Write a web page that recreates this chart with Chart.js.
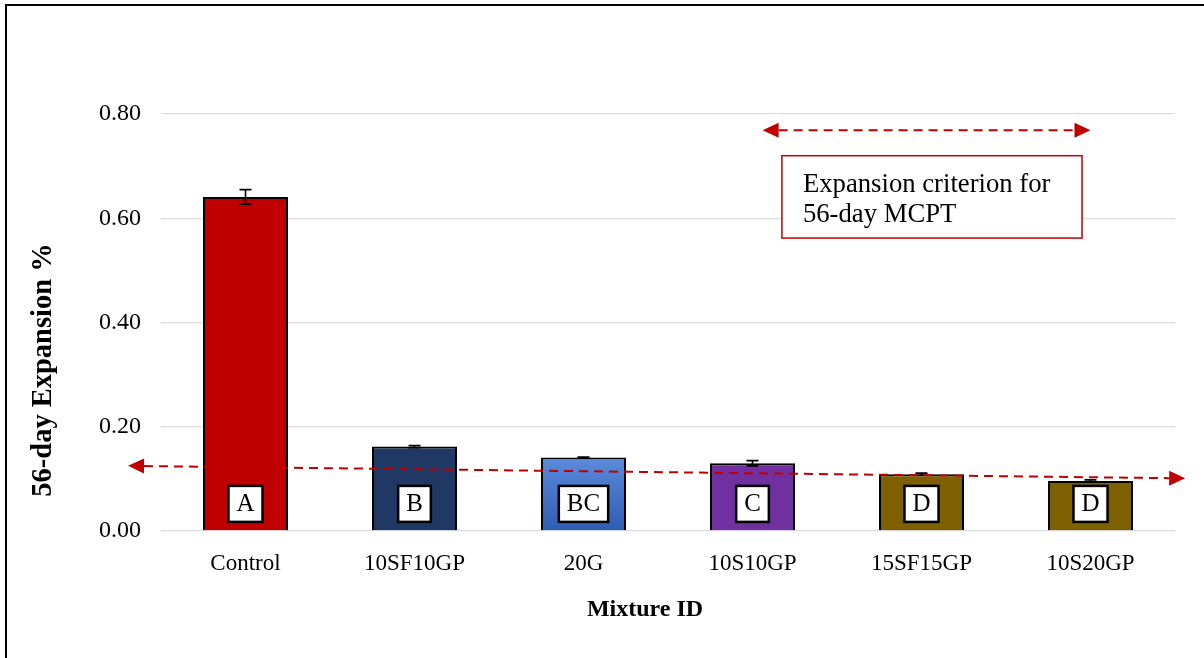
<!DOCTYPE html>
<html>
<head>
<meta charset="utf-8">
<title>56-day Expansion</title>
<script src="https://cdn.jsdelivr.net/npm/chart.js@4.4.1/dist/chart.umd.min.js"></script>
<style>
  html, body { margin: 0; padding: 0; background: #fff; }
  #wrap { position: relative; width: 1204px; height: 658px; overflow: hidden; background: #fff; }
  #frame { position: absolute; left: 5px; top: 4px; width: 1220px; height: 680px; border: 2px solid #000; box-sizing: border-box; }
  #c { position: absolute; left: 0; top: 0; }
</style>
</head>
<body>
<div id="wrap">
  <div id="frame"></div>
  <canvas id="c" width="1204" height="658"></canvas>
</div>
<script>
// Mixture categories and their 56-day expansion results
const mixtures = ['Control', '10SF10GP', '20G', '10S10GP', '15SF15GP', '10S20GP'];
const expansion = [0.641, 0.162, 0.141, 0.130, 0.109, 0.096];
const expansionError = [0.014, 0.002, 0.001, 0.005, 0.002, 0.002];
const groupLetters = ['A', 'B', 'BC', 'C', 'D', 'D'];
const yTickValues = [0.00, 0.20, 0.40, 0.60, 0.80];

// Criterion trend line (category index, expansion %) and span arrow
const criterionStart = [-0.695, 0.125];
const criterionEnd = [5.56, 0.101];
const spanArrowX = [3.06, 5.0];
const spanArrowY = 0.769;
const noteLines = ['Expansion criterion for', '56-day MCPT'];
const noteBoxX = [3.174, 4.95];
const noteBoxY = [0.720, 0.562];
const letterLevel = 0.052;

const barColors = ['#C00000', '#203864', null, '#7030A0', '#7F6000', '#7F6000'];
const SERIF = '"Liberation Serif", "Times New Roman", serif';
const RED = '#C00000';

function blueGradient(ctx) {
  const chart = ctx.chart;
  const area = chart.chartArea;
  if (!area) return '#4472C4';
  const y = chart.scales.y;
  const top = y.getPixelForValue(expansion[2]);
  const bottom = y.getPixelForValue(0);
  const g = chart.ctx.createLinearGradient(0, top, 0, bottom);
  g.addColorStop(0, '#5B8BDB');
  g.addColorStop(1, '#2E5DB5');
  return g;
}

function arrowHead(ctx, tipX, tipY, fromX, fromY, len, half) {
  const ang = Math.atan2(tipY - fromY, tipX - fromX);
  ctx.save();
  ctx.translate(tipX, tipY);
  ctx.rotate(ang);
  ctx.beginPath();
  ctx.moveTo(0, 0);
  ctx.lineTo(-len, -half);
  ctx.lineTo(-len, half);
  ctx.closePath();
  ctx.fillStyle = RED;
  ctx.fill();
  ctx.restore();
}

function dashedArrow(ctx, x1, y1, x2, y2) {
  const len = 16, half = 7.5;
  const d = Math.hypot(x2 - x1, y2 - y1);
  const ux = (x2 - x1) / d, uy = (y2 - y1) / d;
  ctx.save();
  ctx.strokeStyle = RED;
  ctx.lineWidth = 2;
  ctx.setLineDash([9, 6]);
  ctx.beginPath();
  ctx.moveTo(x1 + ux * len, y1 + uy * len);
  ctx.lineTo(x2 - ux * len, y2 - uy * len);
  ctx.stroke();
  ctx.restore();
  arrowHead(ctx, x1, y1, x2, y2, len, half);
  arrowHead(ctx, x2, y2, x1, y1, len, half);
}

const overlayPlugin = {
  id: 'overlay',
  afterDatasetsDraw(chart) {
    const ctx = chart.ctx;
    const xs = chart.scales.x, ys = chart.scales.y;
    const meta = chart.getDatasetMeta(0);

    // error bars
    ctx.save();
    ctx.strokeStyle = '#000';
    ctx.lineWidth = 1.6;
    meta.data.forEach((bar, i) => {
      const e = expansionError[i];
      const yt = ys.getPixelForValue(expansion[i] + e);
      const yb = ys.getPixelForValue(expansion[i] - e);
      ctx.beginPath();
      ctx.moveTo(bar.x, yt); ctx.lineTo(bar.x, yb);
      ctx.moveTo(bar.x - 6, yt); ctx.lineTo(bar.x + 6, yt);
      ctx.moveTo(bar.x - 6, yb); ctx.lineTo(bar.x + 6, yb);
      ctx.stroke();
    });
    ctx.restore();

    // criterion trend line
    dashedArrow(ctx,
      xs.getPixelForValue(criterionStart[0]), ys.getPixelForValue(criterionStart[1]),
      xs.getPixelForValue(criterionEnd[0]), ys.getPixelForValue(criterionEnd[1]));

    // span arrow above the note
    dashedArrow(ctx,
      xs.getPixelForValue(spanArrowX[0]), ys.getPixelForValue(spanArrowY),
      xs.getPixelForValue(spanArrowX[1]), ys.getPixelForValue(spanArrowY));

    // statistical group letters
    ctx.save();
    ctx.font = '25px ' + SERIF;
    ctx.textAlign = 'center';
    ctx.textBaseline = 'middle';
    const cy = ys.getPixelForValue(letterLevel);
    meta.data.forEach((bar, i) => {
      const w = ctx.measureText(groupLetters[i]).width + 16;
      const h = 36;
      ctx.fillStyle = '#fff';
      ctx.fillRect(bar.x - w / 2, cy - h / 2, w, h);
      ctx.strokeStyle = '#000';
      ctx.lineWidth = 2.5;
      ctx.strokeRect(bar.x - w / 2, cy - h / 2, w, h);
      ctx.fillStyle = '#000';
      ctx.fillText(groupLetters[i], bar.x, cy + 1);
    });
    ctx.restore();

    // note box
    const bx1 = xs.getPixelForValue(noteBoxX[0]);
    const bx2 = xs.getPixelForValue(noteBoxX[1]);
    const by1 = ys.getPixelForValue(noteBoxY[0]);
    const by2 = ys.getPixelForValue(noteBoxY[1]);
    ctx.save();
    ctx.fillStyle = '#fff';
    ctx.fillRect(bx1, by1, bx2 - bx1, by2 - by1);
    ctx.strokeStyle = RED;
    ctx.lineWidth = 1.5;
    ctx.strokeRect(bx1, by1, bx2 - bx1, by2 - by1);
    ctx.fillStyle = '#000';
    ctx.font = '26.7px ' + SERIF;
    ctx.textAlign = 'left';
    ctx.textBaseline = 'alphabetic';
    ctx.fillText(noteLines[0], bx1 + 21, by1 + 36);
    ctx.fillText(noteLines[1], bx1 + 21, by1 + 66);
    ctx.restore();
  },
  afterDraw(chart) {
    const ctx = chart.ctx;
    ctx.save();
    ctx.fillStyle = '#000';
    ctx.textAlign = 'center';
    ctx.textBaseline = 'middle';
    ctx.font = 'bold 24px ' + SERIF;
    ctx.fillText('Mixture ID', 645, 610);
    ctx.translate(44, 370);
    ctx.rotate(-Math.PI / 2);
    ctx.font = 'bold 28.5px ' + SERIF;
    ctx.fillText('56-day Expansion %', 0, 0);
    ctx.restore();
  }
};

new Chart(document.getElementById('c'), {
  type: 'bar',
  data: {
    labels: mixtures,
    datasets: [{
      data: expansion,
      backgroundColor: (ctx) => ctx.dataIndex === 2 ? blueGradient(ctx) : barColors[ctx.dataIndex],
      borderColor: '#000',
      borderWidth: 2,
      categoryPercentage: 1.0,
      barPercentage: 0.503
    }]
  },
  options: {
    responsive: false,
    animation: false,
    devicePixelRatio: 1,
    layout: { padding: { left: 0, right: 29, top: 114, bottom: 0 } },
    plugins: { legend: { display: false }, tooltip: { enabled: false } },
    scales: {
      x: {
        grid: { display: false },
        border: { display: false },
        ticks: { color: '#000', font: { family: SERIF, size: 23 }, padding: 11, maxRotation: 0 },
        afterFit: (s) => { s.height = 127; }
      },
      y: {
        min: 0,
        max: 0.8,
        afterBuildTicks: (s) => { s.ticks = yTickValues.map(v => ({ value: v })); },
        ticks: { color: '#000', font: { family: SERIF, size: 24 }, padding: 20, callback: (v) => Number(v).toFixed(2) },
        grid: { color: '#DADDE3', lineWidth: 1.3, drawTicks: false },
        border: { display: false },
        afterFit: (s) => { s.width = 161; }
      }
    }
  },
  plugins: [overlayPlugin]
});
</script>
</body>
</html>
